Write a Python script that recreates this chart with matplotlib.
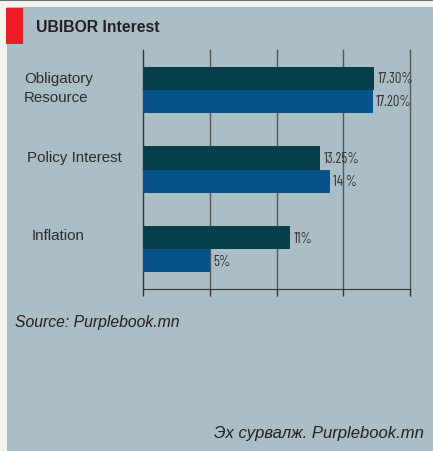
import matplotlib.pyplot as plt
from matplotlib import font_manager
from matplotlib.patches import Rectangle
from matplotlib.transforms import blended_transform_factory

# data
categories = ['Obligatory\nResource', 'Policy Interest', 'Inflation']
ubibor = [17.30, 13.25, 11]
second = [17.20, 14, 5]
ubibor_labels = ['17.30%', '13.25%', '11%']
second_labels = ['17.20%', '14 %', '5%']
xticks = [0, 5, 10, 15, 20]

names = {f.name for f in font_manager.fontManager.ttflist}
narrow = next((n for n in ['Barlow Condensed', 'Liberation Sans Narrow', 'Archivo Narrow',
                           'Roboto Condensed'] if n in names), 'Liberation Sans')
plt.rcParams['font.family'] = ['Liberation Sans', 'DejaVu Sans']

W, H = 433, 452
fig = plt.figure(figsize=(W / 100, H / 100), dpi=100)
fig.patch.set_facecolor('#f3f4ef')

def px(x, y, w, h):
    return (x / W, 1 - (y + h) / H, w / W, h / H)

# panel, top rule and red marker (kept behind the axes)
x0, y0, w0, h0 = px(7, 8, 426, 444)
fig.patches.append(Rectangle((x0, y0), w0, h0, transform=fig.transFigure,
                             facecolor='#abbdc5', edgecolor='none', zorder=-3))
fig.patches.append(Rectangle((0, 1 - 2 / H), 1, 2 / H, transform=fig.transFigure,
                             facecolor='#6f6f6f', edgecolor='none', zorder=-2))
x1, y1, w1, h1 = px(6, 9, 17, 36)
fig.patches.append(Rectangle((x1, y1), w1, h1, transform=fig.transFigure,
                             facecolor='#ee1c25', edgecolor='none', zorder=-1))

fig.text(36 / W, 1 - 27 / H, 'UBIBOR Interest', fontsize=11.3, fontweight='bold',
         color='#231f20', va='center', ha='left')

ax = fig.add_axes(px(143, 51, 267, 239))
ax.set_facecolor('none')

h = 0.29
pos = list(range(len(categories)))
ax.barh([p - h / 2 for p in pos], ubibor, height=h, color='#063f4a', zorder=3)
ax.barh([p + h / 2 for p in pos], second, height=h, color='#08538c', zorder=3)

for p, v, s in zip(pos, ubibor, ubibor_labels):
    ax.annotate(s, (v, p - h / 2), xytext=(2.5, 0), textcoords='offset points',
                va='center', ha='left', fontsize=10.5, family=narrow, color='#333333', zorder=4)
for p, v, s in zip(pos, second, second_labels):
    ax.annotate(s, (v, p + h / 2), xytext=(2.5, 0), textcoords='offset points',
                va='center', ha='left', fontsize=10.5, family=narrow, color='#333333', zorder=4)

ax.set_xlim(0, 20)
ax.set_ylim(2.5, -0.5)
ax.set_xticks(xticks)
ax.set_xticklabels([])
ax.set_yticks([])
ax.tick_params(axis='x', length=5, width=1, color='#333333', direction='out')
ax.grid(axis='x', color='#555555', linewidth=1, zorder=1)
for gl in ax.get_xgridlines():
    gl.set_clip_on(False)
for side in ['top', 'right']:
    ax.spines[side].set_visible(False)
ax.spines['left'].set_color('#333333')
ax.spines['bottom'].set_color('#333333')

# category names, placed left of the axes
trans = blended_transform_factory(fig.transFigure, ax.transData)
label_x = [24, 27, 32]
label_y = [-0.03, 0.84, 1.82]
for s, lx, ly in zip(categories, label_x, label_y):
    ax.text(lx / W, ly, s, transform=trans, fontsize=10.9,
            color='#2b2b2b', va='center', ha='left', linespacing=1.5)

fig.text(15 / W, 1 - 323 / H, 'Source: Purplebook.mn', fontsize=11.3, style='italic',
         color='#231f20', va='center', ha='left')
fig.text(424 / W, 1 - 434 / H, 'Эх сурвалж. Purplebook.mn', fontsize=12, style='italic',
         color='#231f20', va='center', ha='right')

fig.savefig('out.png', dpi=100, facecolor=fig.get_facecolor())
